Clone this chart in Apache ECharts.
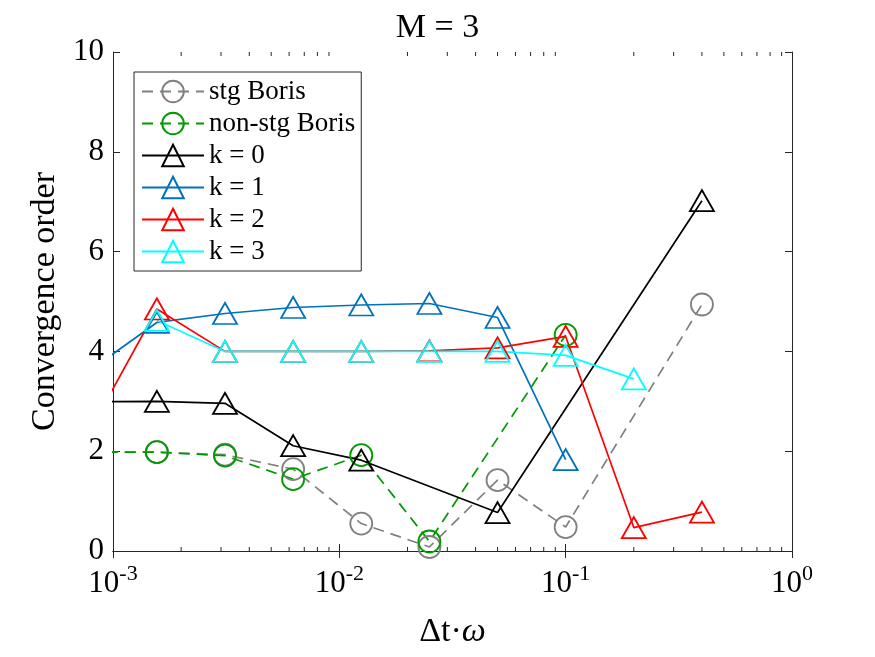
<!DOCTYPE html>
<html lang="en">
<head>
    <meta charset="UTF-8">
</head>
<style>
    html, body {
        width: 100%;
        height: 100%;
        margin: 0;
    }
</style>
<body>

<div id="main" style="width:875px;height:657px;"></div>

<script src="https://cdn.jsdelivr.net/npm/echarts@6/dist/echarts.min.js" type="text/javascript"></script>

<script type="text/javascript">

    // time steps (dt*omega), halving each time
    const dt = [0.00078125, 0.0015625, 0.003125, 0.00625, 0.0125, 0.025, 0.05, 0.1, 0.2, 0.4];

    // convergence orders, null = no point
    const stgBoris = [1.98, 1.98, 1.93, 1.64, 0.55, 0.08, 1.42, 0.48, null, 4.94];
    const nonStgBoris = [1.98, 1.98, 1.91, 1.44, 1.92, 0.19, null, 4.33, null, null];
    const k0 = [2.99, 3.0, 2.96, 2.11, 1.82, null, 0.77, null, null, 7.02];
    const k1 = [3.6, 4.58, 4.76, 4.88, 4.93, 4.96, 4.68, 1.83, null, null];
    const k2 = [2.37, 4.85, 4.0, 4.0, 4.0, 4.01, 4.07, 4.3, 0.47, 0.78];
    const k3 = [null, 4.62, 4.0, 4.0, 4.0, 4.0, 4.0, 3.92, 3.45, null];

    const minorTicks = [0.002, 0.003, 0.004, 0.005, 0.006, 0.007, 0.008, 0.009,
        0.02, 0.03, 0.04, 0.05, 0.06, 0.07, 0.08, 0.09,
        0.2, 0.3, 0.4, 0.5, 0.6, 0.7, 0.8, 0.9];

    const FONT = 'Liberation Serif';
    const AX = '#262626';

    function pairs(vals) {
        return dt.map(function (x, i) {
            return [x, vals[i] === null ? '-' : vals[i]];
        });
    }

    function makeSeries(name, vals, color, symbol, dashed) {
        return {
            name: name,
            type: 'line',
            data: pairs(vals),
            connectNulls: true,
            symbol: symbol,
            symbolSize: symbol === 'triangle' ? [24, 21] : 22,
            showAllSymbol: true,
            lineStyle: {color: color, width: 1.7, type: dashed ? [11, 7] : 'solid'},
            itemStyle: {color: 'transparent', borderColor: color, borderWidth: 1.8},
            emphasis: {disabled: true},
            animation: false
        };
    }

    let myEcharts = echarts.init(document.getElementById('main'));

    let option = {
        backgroundColor: '#fff',
        animation: false,
        title: {
            text: 'M = 3',
            left: 'center',
            top: 6,
            textStyle: {fontFamily: FONT, fontSize: 34, fontWeight: 'normal', color: '#000'}
        },
        legend: {
            orient: 'vertical',
            left: 134,
            top: 72,
            itemWidth: 62,
            itemHeight: 27,
            itemGap: 5,
            padding: [6, 6, 6, 7],
            borderColor: AX,
            borderWidth: 1,
            backgroundColor: '#fff',
            data: ['stg Boris', 'non-stg Boris', 'k = 0', 'k = 1', 'k = 2', 'k = 3'],
            textStyle: {fontFamily: FONT, fontSize: 27, color: '#000'}
        },
        grid: {left: 113, top: 52, right: 83, bottom: 106},
        xAxis: [{
            type: 'log',
            logBase: 10,
            min: 0.001,
            max: 1,
            name: '{a|Δt·}{b|ω}',
            nameLocation: 'middle',
            nameGap: 64,
            nameTextStyle: {
                rich: {
                    a: {fontFamily: FONT, fontSize: 34, color: '#000'},
                    b: {fontFamily: FONT, fontSize: 34, fontStyle: 'italic', color: '#000'}
                }
            },
            axisLine: {lineStyle: {color: AX, width: 1}},
            axisTick: {inside: true, length: 7, lineStyle: {color: AX}},
            splitLine: {show: false},
            axisLabel: {
                margin: 12,
                formatter: function (v) {
                    return '{b|10}{s|' + Math.round(Math.log10(v)) + '}';
                },
                rich: {
                    b: {fontFamily: FONT, fontSize: 31, color: '#000', lineHeight: 36, verticalAlign: 'bottom'},
                    s: {fontFamily: FONT, fontSize: 22, color: '#000', lineHeight: 36, verticalAlign: 'top'}
                }
            }
        }, {
            type: 'log',
            logBase: 10,
            min: 0.001,
            max: 1,
            position: 'top',
            axisLine: {lineStyle: {color: AX, width: 1}},
            axisTick: {inside: true, length: 7, lineStyle: {color: AX}},
            axisLabel: {show: false},
            splitLine: {show: false}
        }],
        yAxis: [{
            type: 'value',
            min: 0,
            max: 10,
            interval: 2,
            name: 'Convergence order',
            nameLocation: 'middle',
            nameGap: 48,
            nameTextStyle: {fontFamily: FONT, fontSize: 34, color: '#000'},
            axisLine: {show: true, lineStyle: {color: AX, width: 1}},
            axisTick: {show: true, inside: true, length: 7, lineStyle: {color: AX}},
            splitLine: {show: false},
            axisLabel: {margin: 9, fontFamily: FONT, fontSize: 31, color: '#000'}
        }, {
            type: 'value',
            min: 0,
            max: 10,
            interval: 2,
            position: 'right',
            axisLine: {show: true, lineStyle: {color: AX, width: 1}},
            axisTick: {show: true, inside: true, length: 7, lineStyle: {color: AX}},
            axisLabel: {show: false},
            splitLine: {show: false}
        }],
        series: [
            makeSeries('stg Boris', stgBoris, '#808080', 'circle', true),
            makeSeries('non-stg Boris', nonStgBoris, '#009900', 'circle', true),
            makeSeries('k = 0', k0, '#000000', 'triangle', false),
            makeSeries('k = 1', k1, '#0072BD', 'triangle', false),
            makeSeries('k = 2', k2, '#ff0000', 'triangle', false),
            makeSeries('k = 3', k3, '#00ffff', 'triangle', false),
            {
                // minor log ticks on bottom and top axes
                type: 'custom',
                silent: true,
                clip: false,
                data: minorTicks.map(function (v) { return [v, 0]; }),
                renderItem: function (params, api) {
                    const b = api.coord([api.value(0), 0]);
                    const t = api.coord([api.value(0), 10]);
                    const st = {stroke: AX, lineWidth: 1};
                    return {
                        type: 'group',
                        children: [
                            {type: 'line', shape: {x1: b[0], y1: b[1], x2: b[0], y2: b[1] - 4}, style: st},
                            {type: 'line', shape: {x1: t[0], y1: t[1], x2: t[0], y2: t[1] + 4}, style: st}
                        ]
                    };
                }
            }
        ]
    };

    myEcharts.setOption(option);

</script>
</body>
</html>
